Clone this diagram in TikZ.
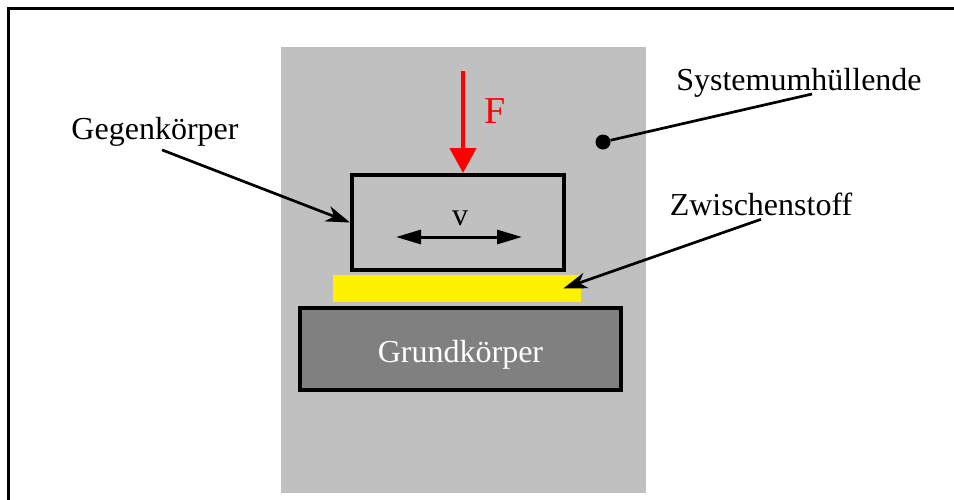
\documentclass[tikz,border=0pt]{standalone}
\usepackage{fontspec}
\setmainfont{Liberation Serif}
\usetikzlibrary{arrows.meta}

\definecolor{envgray}{HTML}{C0C0C0}
\definecolor{basegray}{HTML}{808080}

\begin{document}
\begin{tikzpicture}[
    x=1pt, y=-1pt,
    labeltext/.style={inner sep=0pt, outer sep=4pt, font=\fontsize{32}{38}\selectfont},
    body/.style={rectangle, draw=black, line width=4pt, inner sep=0pt},
    layer/.style={rectangle, inner sep=0pt},
    pointer/.style={line width=2.7pt, -{Stealth[length=24pt, width=16pt, inset=7pt]}}
]
    \useasboundingbox (0,0) rectangle (954,499);

    % Frame
    \draw[line width=3pt] (960,8.5) -- (8.5,8.5) -- (8.5,505);

    % System envelope
    \node[layer, fill=envgray, minimum width=365pt, minimum height=446pt] (system) at (463.5,270) {};

    % Bodies
    \node[body, minimum width=212pt, minimum height=95pt] (gegen) at (458,222.5) {};
    \node[layer, fill=yellow, minimum width=248pt, minimum height=27pt] (zwischen) at (457,288.5) {};
    \node[body, fill=basegray, minimum width=321pt, minimum height=82pt,
          text height=26pt, text depth=0pt,
          text=white, font=\fontsize{32}{38}\selectfont] (grund) at (460.5,349) {Grundkörper};

    % Normal force
    \coordinate (fstart) at (463,71);
    \draw[red, line width=4.7pt, -{Triangle[length=25pt, width=26pt]}] (fstart) -- (fstart |- gegen.north);
    \node[labeltext, anchor=base, text=red, font=\fontsize{38}{44}\selectfont] (flabel) at (495,123) {F};

    % Sliding velocity
    \coordinate (vleft) at (396,237);
    \coordinate (vright) at (522,237);
    \draw[line width=3pt, {Triangle[length=25pt, width=14pt]}-{Triangle[length=25pt, width=14pt]}] (vleft) -- (vright);
    \node[labeltext, anchor=base] (vlabel) at (460,225) {v};

    % Labels
    \node[labeltext, anchor=base] (gegenlabel) at (155,139) {Gegenkörper};
    \node[labeltext, anchor=base] (zwischenlabel) at (761,215) {Zwischenstoff};
    \node[labeltext, anchor=base] (syslabel) at (799,90) {Systemumhüllende};
    \node[circle, fill=black, minimum size=15pt, inner sep=0pt] (sysdot) at (603,142) {};

    \draw[pointer] ([xshift=7pt]gegenlabel.south) -- (gegen.west);
    \draw[pointer] (zwischenlabel.south) -- ([xshift=-18pt]zwischen.east);
    \draw[line width=2.7pt] ([xshift=13pt, yshift=-4pt]syslabel.base) -- (sysdot);
\end{tikzpicture}
\end{document}
